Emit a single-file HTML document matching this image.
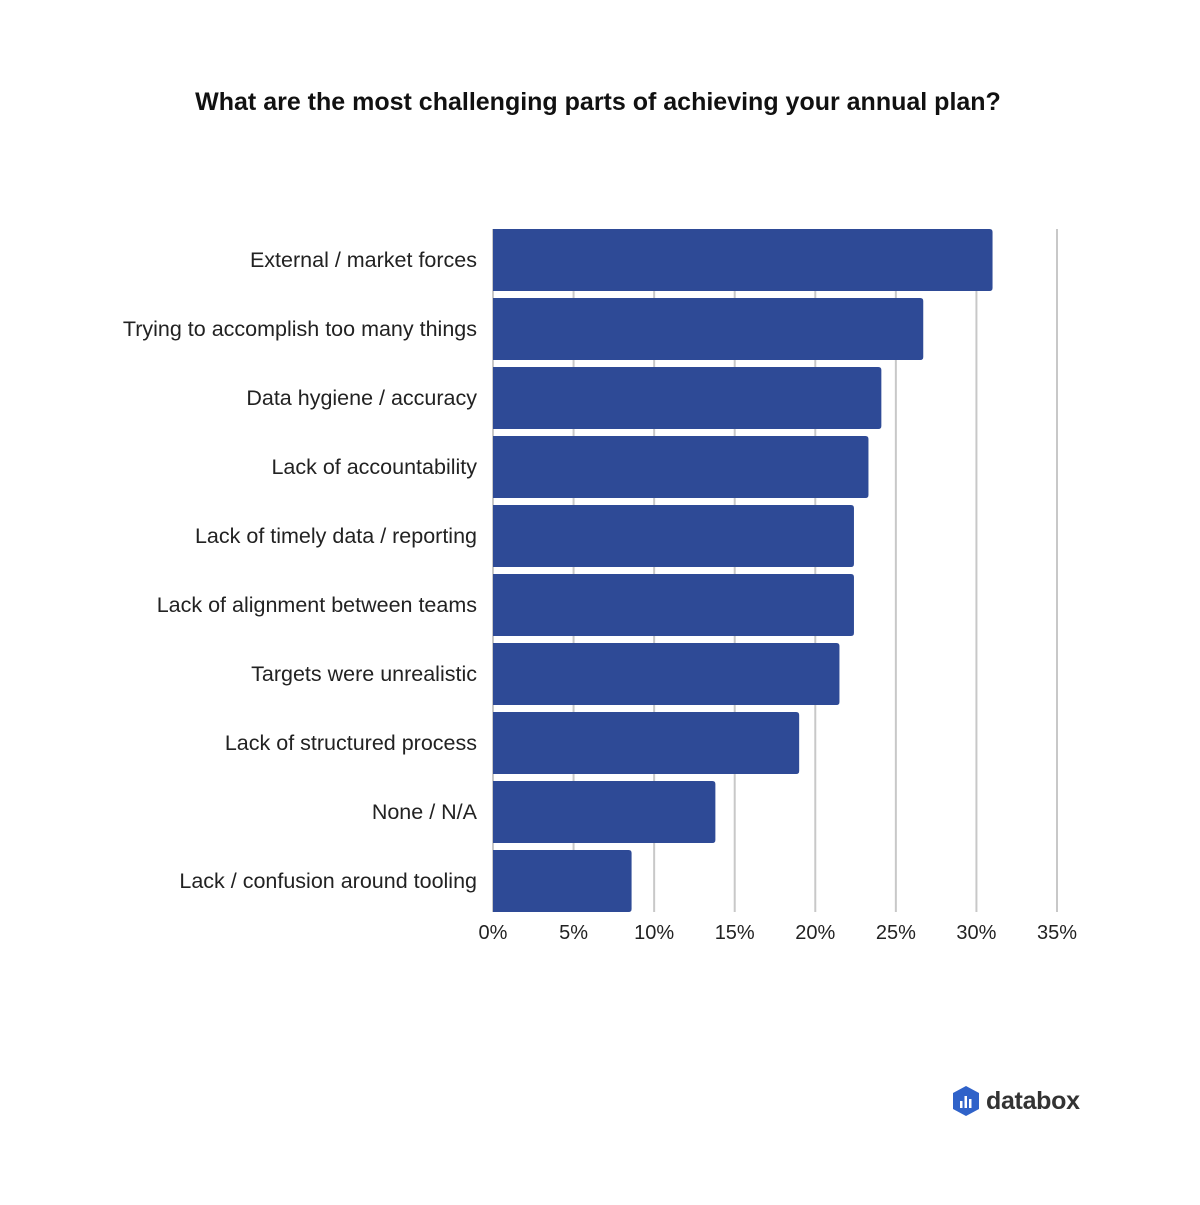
<!DOCTYPE html>
<html><head><meta charset="utf-8"><style>
body{margin:0;background:#fff;font-family:"Liberation Sans",sans-serif;}
</style></head><body>
<svg id="chart" width="1200" height="1200" xmlns="http://www.w3.org/2000/svg">
<rect width="1200" height="1200" fill="#fff"/>
<text x="598" y="110" text-anchor="middle" font-size="25" font-weight="bold" fill="#111">What are the most challenging parts of achieving your annual plan?</text>
<g id="grid"></g><g id="bars"></g><g id="labels"></g><g id="ticks"></g>
<g>
<polygon points="966,1086 979,1093 979,1109 966,1116 953,1109 953,1093" fill="#2f62c9"/>
<rect x="960" y="1101" width="2.5" height="7" fill="#fff"/><rect x="964.5" y="1096" width="2.5" height="12" fill="#fff"/><rect x="969" y="1099" width="2.5" height="9" fill="#fff"/>
<text x="986" y="1109" font-size="25" font-weight="bold" fill="#333" textLength="94">databox</text>
</g>
</svg>
<script>
const categories=["External / market forces","Trying to accomplish too many things","Data hygiene / accuracy","Lack of accountability","Lack of timely data / reporting","Lack of alignment between teams","Targets were unrealistic","Lack of structured process","None / N/A","Lack / confusion around tooling"];
const values=[31.0,26.7,24.1,23.3,22.4,22.4,21.5,19.0,13.8,8.6];
const tickValues=[0,5,10,15,20,25,30,35];
const tickLabels=["0%","5%","10%","15%","20%","25%","30%","35%"];
const NS="http://www.w3.org/2000/svg";
const x0=493,x1=1057,vmax=35,top0=229,pitch=69,bh=62;
const xs=v=>x0+(x1-x0)*v/vmax;
const ys=i=>top0+i*pitch;
function mk(t,a){const e=document.createElementNS(NS,t);for(const k in a)e.setAttribute(k,a[k]);return e;}
const grid=document.getElementById('grid'),bars=document.getElementById('bars'),labels=document.getElementById('labels'),ticks=document.getElementById('ticks');
tickValues.forEach((v,i)=>{
 const l=mk('line',{x1:xs(v),x2:xs(v),y1:229,y2:912,stroke:'#c8c8c8','stroke-width':2});
 
 
 grid.appendChild(l);
 const t=mk('text',{x:xs(v),y:939,'text-anchor':'middle','font-size':20,fill:'#222'});
 t.textContent=tickLabels[i];
 
 
 ticks.appendChild(t);
});
categories.forEach((c,i)=>{
 const w=xs(values[i])-x0,y=ys(i);
 const p=mk('path',{d:`M${x0},${y}H${x0+w-3}Q${x0+w},${y} ${x0+w},${y+3}V${y+bh-3}Q${x0+w},${y+bh} ${x0+w-3},${y+bh}H${x0}Z`,fill:'#2e4a96'});
 
 
 bars.appendChild(p);
 const t=mk('text',{x:477,y:y+bh/2+7,'text-anchor':'end','font-size':21.5,fill:'#222'});
 t.textContent=c;
 
 
 labels.appendChild(t);
});
</script>
</body></html>
